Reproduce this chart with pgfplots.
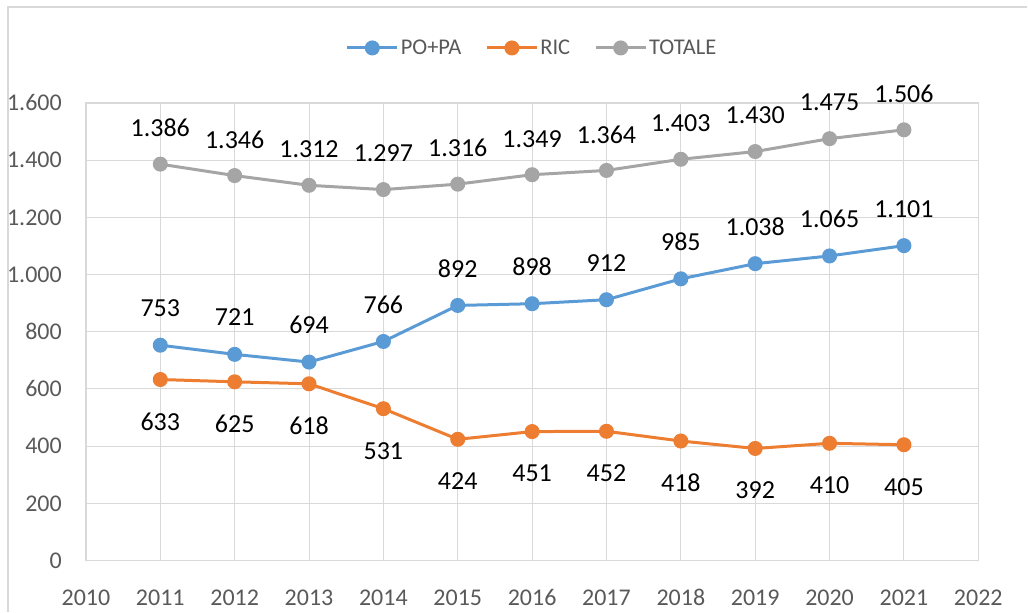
\documentclass[border=0pt]{standalone}
\usepackage{fontspec}
\setmainfont{Carlito}
\usepackage{pgfplots}
\pgfplotsset{compat=1.18}
\definecolor{cblue}{HTML}{5B9BD5}
\definecolor{corange}{HTML}{ED7D31}
\definecolor{cgray}{HTML}{A5A5A5}
\definecolor{gridc}{HTML}{D9D9D9}
\definecolor{tickc}{HTML}{595959}
\begin{document}
\begin{tikzpicture}
\path (-86pt,-51pt) rectangle (942pt,561pt);
\draw[gridc, line width=1.5pt] (-78pt,-51pt) -- (-78pt,554pt) -- (942pt,554pt);
\begin{axis}[
  at={(0pt,0pt)}, anchor=south west,
  scale only axis, width=893pt, height=458pt,
  xmin=2010, xmax=2022, ymin=0, ymax=1600,
  xtick={2010,2011,...,2022}, ytick={0,200,...,1600},
  grid=major, major grid style={gridc, line width=1pt},
  axis line style={gridc, line width=1.2pt},
  major tick length=0pt,
  /pgf/number format/1000 sep={.},
  /pgf/number format/assume math mode=true,
  tick label style={font=\fontsize{24}{27}\selectfont, text=tickc},
  xticklabel style={/pgf/number format/1000 sep={}, anchor=center, yshift=-37pt},
  yticklabel style={anchor=east, inner sep=0pt, xshift=-24pt},
  legend columns=3,
  legend style={at={(0.5,1)}, anchor=center, yshift=55pt, draw=none, fill=none,
    font=\fontsize{22.5}{25}\selectfont, text=tickc,
    /tikz/every even column/.append style={column sep=22pt}},
  legend image code/.code={\draw[mark repeat=2,mark phase=2] plot coordinates {(0pt,0pt) (25pt,0pt) (50pt,0pt)};},
  every node near coord/.append style={font=\fontsize{26}{29}\selectfont, text=black, anchor=center},
]
\addplot[cblue, line width=3pt, mark=*, mark size=6pt, mark options={solid},
  nodes near coords, every node near coord/.append style={yshift=37pt}]
  coordinates {(2011,753) (2012,721) (2013,694) (2014,766) (2015,892) (2016,898) (2017,912) (2018,985) (2019,1038) (2020,1065) (2021,1101)};
\addlegendentry{PO+PA}
\addplot[corange, line width=3pt, mark=*, mark size=6pt, mark options={solid},
  nodes near coords, every node near coord/.append style={yshift=-42pt}]
  coordinates {(2011,633) (2012,625) (2013,618) (2014,531) (2015,424) (2016,451) (2017,452) (2018,418) (2019,392) (2020,410) (2021,405)};
\addlegendentry{RIC}
\addplot[cgray, line width=3pt, mark=*, mark size=6pt, mark options={solid},
  nodes near coords, every node near coord/.append style={yshift=36pt}]
  coordinates {(2011,1386) (2012,1346) (2013,1312) (2014,1297) (2015,1316) (2016,1349) (2017,1364) (2018,1403) (2019,1430) (2020,1475) (2021,1506)};
\addlegendentry{TOTALE}
\end{axis}
\end{tikzpicture}
\end{document}
